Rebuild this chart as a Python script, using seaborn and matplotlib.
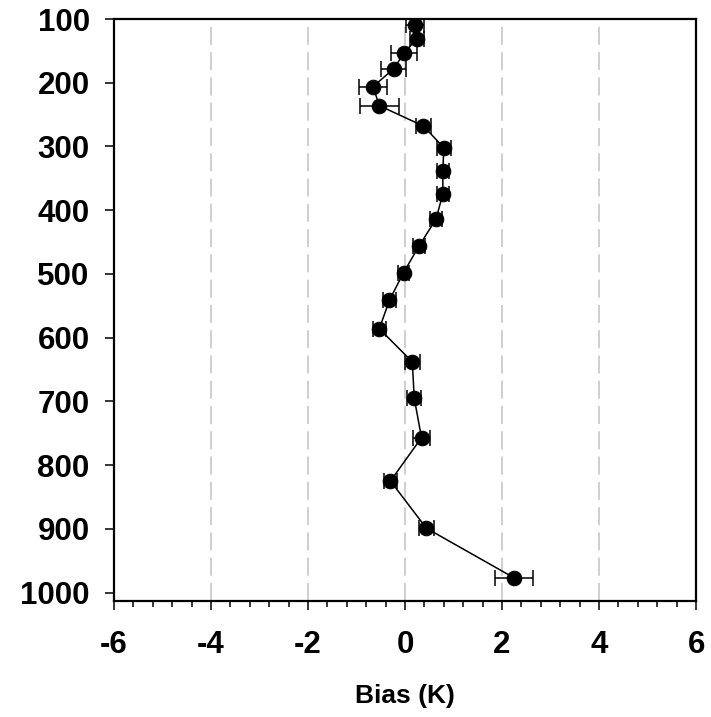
import matplotlib
matplotlib.use("Agg")
import matplotlib.pyplot as plt
from matplotlib.ticker import MultipleLocator
import seaborn as sns
import pandas as pd

# Pressure levels (hPa), mean temperature bias (K) and its uncertainty
pressure = [109, 131, 153, 178, 206, 236, 268, 302, 338, 374, 414,
            456, 498, 541, 586, 638, 695, 757, 825, 899, 977]
bias = [0.21, 0.25, -0.02, -0.23, -0.66, -0.53, 0.38, 0.80, 0.78, 0.78, 0.64,
        0.29, -0.03, -0.32, -0.53, 0.15, 0.19, 0.34, -0.30, 0.44, 2.25]
bias_err = [0.18, 0.15, 0.27, 0.26, 0.29, 0.40, 0.16, 0.14, 0.13, 0.13, 0.12,
            0.12, 0.12, 0.14, 0.13, 0.15, 0.14, 0.17, 0.13, 0.16, 0.39]

x_ticks = [-6, -4, -2, 0, 2, 4, 6]
y_ticks = [100, 200, 300, 400, 500, 600, 700, 800, 900, 1000]
grid_x = [-4, -2, 0, 2, 4]

df = pd.DataFrame({"pressure": pressure, "bias": bias, "err": bias_err})

sns.set_style("white")
plt.rcParams["font.family"] = ["Liberation Sans", "DejaVu Sans"]
plt.rcParams["font.weight"] = "bold"
plt.rcParams["text.color"] = "black"
plt.rcParams["axes.labelcolor"] = "black"
plt.rcParams["xtick.color"] = "black"
plt.rcParams["ytick.color"] = "black"

fig = plt.figure(figsize=(7.11, 7.17), dpi=100)
ax = fig.add_axes([0.1603, 0.1618, 0.8187, 0.8117])

for gx in grid_x:
    ax.axvline(gx, color="#cccccc", lw=1.3, ls=(0, (10, 4)), zorder=0)

ax.errorbar(df["bias"], df["pressure"], xerr=df["err"], fmt="none",
            ecolor="black", elinewidth=1.1, capsize=5.6, capthick=1.1, zorder=2)
sns.lineplot(data=df, x="bias", y="pressure", sort=False, estimator=None,
             orient="y", color="black", lw=1.1, marker="o", markersize=10.5,
             markeredgecolor="black", markerfacecolor="black", ax=ax, zorder=3)

ax.set_xlim(-6, 6)
ax.set_ylim(1013.25, 100)
ax.set_xticks(x_ticks)
ax.set_yticks(y_ticks)
ax.xaxis.set_minor_locator(MultipleLocator(0.4))
ax.set_xticklabels([str(v) for v in x_ticks], fontsize=22.5, fontweight="bold",
                   color="black")
ax.set_yticklabels([str(v) for v in y_ticks], fontsize=22.5, fontweight="bold",
                   color="black")
ax.tick_params(axis="x", which="major", direction="out", length=6.5, width=1.1,
               pad=14.5, bottom=True, color="black")
ax.tick_params(axis="x", which="minor", direction="out", length=4, width=1.1,
               bottom=True, color="black")
ax.tick_params(axis="y", which="major", direction="out", length=6.5, width=1.1,
               pad=11, left=True, color="black")
ax.set_xlabel("Bias (K)", fontsize=19, fontweight="bold", labelpad=17,
              color="black")
ax.set_ylabel("")

for sp in ax.spines.values():
    sp.set_visible(True)
    sp.set_color("black")
    sp.set_linewidth(1.6)

fig.savefig("out.png", dpi=100)
